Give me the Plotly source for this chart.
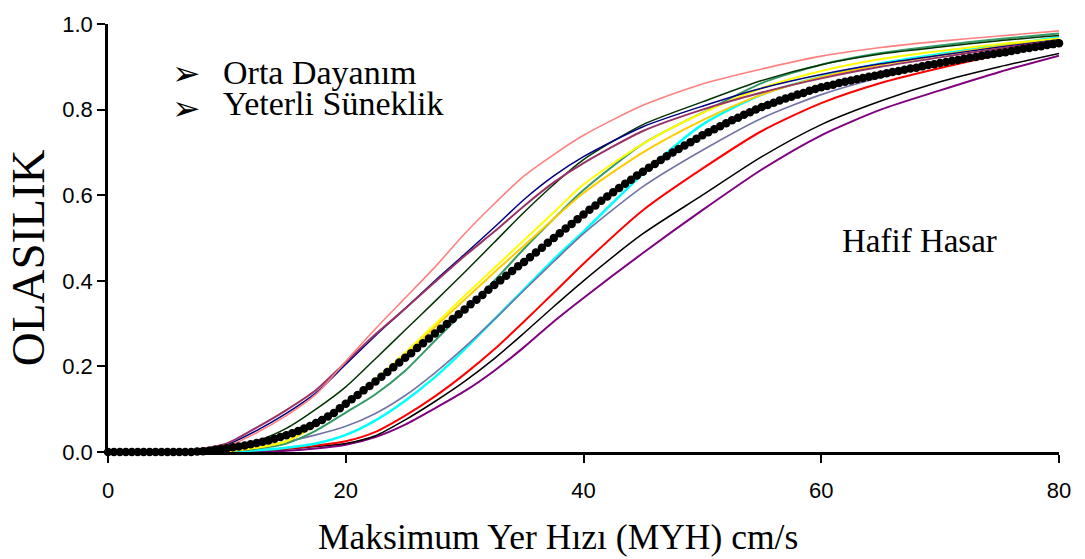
import numpy as np
import plotly.graph_objects as go

# PGV grid (cm/s) shared by the individual fragility curves
pgv = [0, 5, 7.5, 10, 12.5, 15, 17.5, 20, 22.5, 25, 27.5, 30, 32.5, 35, 37.5,
       40, 45, 50, 55, 60, 65, 70, 75, 80]

# Exceedance probability of each individual curve on the grid above
p_pink = [0, 0, 0.003, 0.014, 0.045, 0.085, 0.135, 0.212, 0.288, 0.36, 0.432, 0.51,
          0.58, 0.645, 0.695, 0.74, 0.81, 0.86, 0.895, 0.925, 0.945, 0.96, 0.972, 0.984]
p_mauve = [0, 0.001, 0.006, 0.02, 0.057, 0.098, 0.145, 0.21, 0.275, 0.335, 0.397, 0.458,
           0.515, 0.575, 0.63, 0.675, 0.75, 0.80, 0.84, 0.873, 0.90, 0.922, 0.943, 0.962]
p_navy = [0, 0.001, 0.004, 0.017, 0.05, 0.09, 0.138, 0.205, 0.272, 0.335, 0.40, 0.462,
          0.525, 0.59, 0.645, 0.69, 0.76, 0.808, 0.85, 0.882, 0.907, 0.927, 0.946, 0.963]
p_dkgreen = [0, 0, 0.001, 0.006, 0.025, 0.055, 0.10, 0.152, 0.218, 0.285, 0.352, 0.42,
             0.49, 0.56, 0.625, 0.683, 0.765, 0.818, 0.868, 0.905, 0.93, 0.946, 0.961, 0.973]
p_yellow = [0, 0, 0, 0.002, 0.01, 0.025, 0.065, 0.115, 0.17, 0.232, 0.298, 0.365,
            0.43, 0.495, 0.56, 0.625, 0.72, 0.792, 0.85, 0.89, 0.918, 0.937, 0.953, 0.966]
p_gold = [0, 0, 0, 0.002, 0.01, 0.025, 0.063, 0.113, 0.168, 0.228, 0.292, 0.356,
          0.42, 0.482, 0.545, 0.605, 0.70, 0.775, 0.835, 0.876, 0.905, 0.927, 0.948, 0.965]
p_seagreen = [0, 0, 0, 0.002, 0.008, 0.02, 0.05, 0.092, 0.135, 0.19, 0.26, 0.33,
              0.40, 0.475, 0.545, 0.612, 0.72, 0.793, 0.862, 0.905, 0.932, 0.95, 0.965, 0.978]
p_slate = [0, 0, 0.001, 0.004, 0.012, 0.024, 0.04, 0.06, 0.09, 0.132, 0.185, 0.245,
           0.31, 0.378, 0.445, 0.51, 0.62, 0.705, 0.78, 0.835, 0.875, 0.905, 0.932, 0.955]
p_cyan = [0, 0, 0, 0.001, 0.004, 0.01, 0.02, 0.04, 0.074, 0.12, 0.175, 0.24,
          0.31, 0.38, 0.45, 0.515, 0.65, 0.765, 0.835, 0.877, 0.908, 0.93, 0.95, 0.969]
p_red = [0, 0, 0, 0.001, 0.004, 0.008, 0.015, 0.025, 0.047, 0.085, 0.13, 0.182,
         0.24, 0.305, 0.372, 0.44, 0.565, 0.662, 0.75, 0.815, 0.862, 0.897, 0.928, 0.955]
p_black = [0, 0, 0, 0.001, 0.003, 0.007, 0.013, 0.02, 0.038, 0.075, 0.118, 0.165,
           0.218, 0.278, 0.34, 0.40, 0.51, 0.60, 0.69, 0.765, 0.82, 0.865, 0.90, 0.931]
p_purple = [0, 0, 0, 0, 0.001, 0.003, 0.008, 0.017, 0.035, 0.064, 0.102, 0.142,
            0.19, 0.245, 0.305, 0.36, 0.465, 0.565, 0.66, 0.74, 0.80, 0.845, 0.888, 0.926]

# Mean curve, sampled every 0.5 cm/s from 0 to 80
pgv_mean = np.arange(0, 80.5, 0.5)
p_mean = [
    0, 0, 0, 0, 0, 0, 0, 0, 0, 0,
    0, 0, 0, 0, 0, 0.001, 0.002, 0.003, 0.005, 0.007,
    0.009, 0.011, 0.013, 0.015, 0.018, 0.021, 0.024, 0.027, 0.031, 0.035,
    0.039, 0.044, 0.049, 0.055, 0.061, 0.068, 0.075, 0.083, 0.091, 0.102,
    0.113, 0.123, 0.133, 0.144, 0.154, 0.165, 0.176, 0.187, 0.198, 0.209,
    0.220, 0.231, 0.243, 0.254, 0.265, 0.277, 0.288, 0.299, 0.311, 0.322,
    0.333, 0.345, 0.356, 0.367, 0.379, 0.390, 0.401, 0.412, 0.423, 0.434,
    0.444, 0.455, 0.466, 0.477, 0.489, 0.500, 0.511, 0.522, 0.533, 0.544,
    0.555, 0.566, 0.576, 0.587, 0.597, 0.607, 0.617, 0.627, 0.636, 0.646,
    0.655, 0.664, 0.673, 0.682, 0.691, 0.700, 0.708, 0.716, 0.724, 0.732,
    0.740, 0.747, 0.754, 0.761, 0.768, 0.775, 0.781, 0.788, 0.794, 0.800,
    0.806, 0.811, 0.816, 0.821, 0.826, 0.830, 0.835, 0.839, 0.844, 0.848,
    0.852, 0.855, 0.858, 0.862, 0.865, 0.868, 0.871, 0.874, 0.877, 0.879,
    0.882, 0.885, 0.888, 0.890, 0.893, 0.896, 0.898, 0.901, 0.904, 0.906,
    0.909, 0.911, 0.914, 0.916, 0.919, 0.921, 0.923, 0.926, 0.928, 0.930,
    0.932, 0.934, 0.937, 0.939, 0.942, 0.944, 0.946, 0.948, 0.951, 0.953,
    0.955,
]

x_ticks = [0, 20, 40, 60, 80]
y_ticks = [0.0, 0.2, 0.4, 0.6, 0.8, 1.0]

curves = [
    (p_purple, "#800080", 2.0),
    (p_black, "#000000", 1.5),
    (p_red, "#FF0000", 2.0),
    (p_cyan, "#00FFFF", 2.5),
    (p_slate, "#7373A6", 1.6),
    (p_seagreen, "#339966", 2.0),
    (p_gold, "#FFCC00", 2.0),
    (p_yellow, "#FFFF00", 2.0),
    (p_dkgreen, "#003300", 1.5),
    (p_navy, "#000080", 1.5),
    (p_mauve, "#993366", 2.0),
    (p_pink, "#FF8080", 1.6),
]

fig = go.Figure()
for vals, color, width in curves:
    fig.add_trace(go.Scatter(
        x=pgv, y=vals, mode="lines",
        line=dict(color=color, width=width, shape="spline", smoothing=0.7),
        cliponaxis=False, showlegend=False, hoverinfo="skip",
    ))

fig.add_trace(go.Scatter(
    x=pgv_mean, y=p_mean, mode="lines+markers",
    line=dict(color="black", width=1.5),
    marker=dict(color="black", size=8.5, line=dict(width=0)),
    cliponaxis=False, showlegend=False,
))

serif = "Liberation Serif, Times New Roman, serif"
sans = "Liberation Sans, Arial, sans-serif"

axis_common = dict(
    showline=True, linecolor="black", linewidth=2.5,
    ticks="outside", ticklen=8, tickwidth=2, tickcolor="black",
    showgrid=False, zeroline=False,
    tickfont=dict(family=sans, size=22, color="black"),
)

fig.update_layout(
    width=1085, height=559,
    margin=dict(l=108, r=26, t=13, b=107),
    paper_bgcolor="white", plot_bgcolor="white",
    xaxis=dict(range=[0, 80], tickvals=x_ticks, ticklabelstandoff=9, **axis_common),
    yaxis=dict(range=[0, 1], tickvals=y_ticks, tickformat=".1f", **axis_common),
    showlegend=False,
)

annotations = [
    dict(text="Maksimum Yer Hızı (MYH) cm/s", xref="paper", yref="paper",
         x=0.4737, y=-0.198, xanchor="center", yanchor="middle", showarrow=False,
         font=dict(family=serif, size=35.5, color="black")),
    dict(text="OLASILIK", xref="paper", yref="paper", textangle=-90,
         x=-0.0841, y=0.453, xanchor="center", yanchor="middle", showarrow=False,
         font=dict(family=serif, size=47, color="black")),
    dict(text="➢", xref="x", yref="y", x=6.64, y=0.885, xanchor="center",
         yanchor="middle", showarrow=False,
         font=dict(family="DejaVu Sans", size=34, color="black")),
    dict(text="➢", xref="x", yref="y", x=6.64, y=0.803, xanchor="center",
         yanchor="middle", showarrow=False,
         font=dict(family="DejaVu Sans", size=34, color="black")),
    dict(text="Orta Dayanım", xref="x", yref="y", x=9.5, y=0.887, xanchor="left",
         yanchor="middle", showarrow=False,
         font=dict(family=serif, size=34, color="black")),
    dict(text="Yeterli Süneklik", xref="x", yref="y", x=9.5, y=0.814, xanchor="left",
         yanchor="middle", showarrow=False,
         font=dict(family=serif, size=34, color="black")),
    dict(text="Hafif Hasar", xref="x", yref="y", x=68.3, y=0.494, xanchor="center",
         yanchor="middle", showarrow=False,
         font=dict(family=serif, size=33, color="black")),
]
fig.update_layout(annotations=annotations)

fig.write_html("out.html")
